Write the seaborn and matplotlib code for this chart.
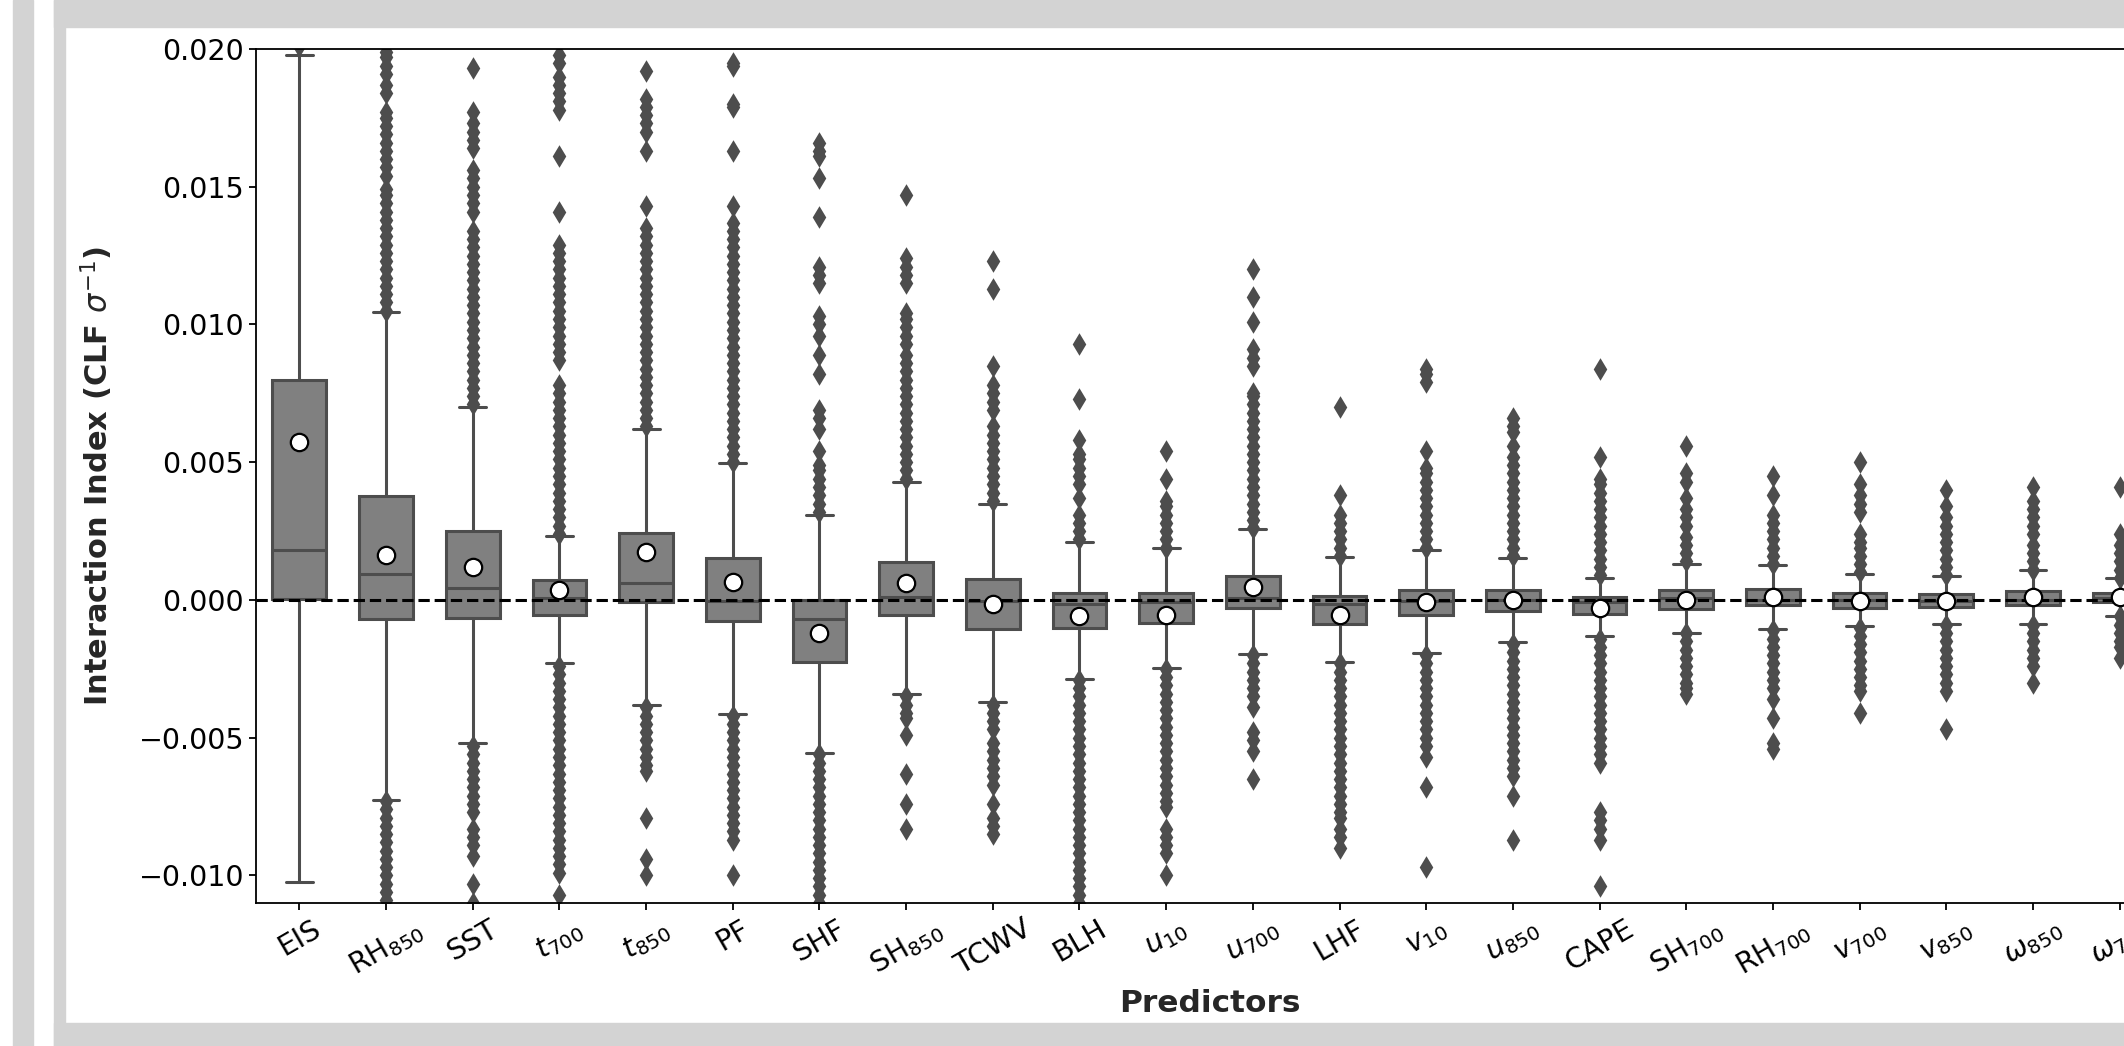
#!/usr/bin/env python3
import numpy as np
import pandas as pd
import seaborn as sns
import matplotlib.pyplot as plt
from matplotlib.patches import Rectangle

# Interaction index per predictor, values in units of 1e-3 (CLF sigma^-1)
predictors = ["EIS", "RH$_{850}$", "SST", "$t_{700}$", "$t_{850}$", "PF", "SHF",
              "SH$_{850}$", "TCWV", "BLH", "$u_{10}$", "$u_{700}$", "LHF",
              "$v_{10}$", "$u_{850}$", "CAPE", "SH$_{700}$", "RH$_{700}$",
              "$v_{700}$", "$v_{850}$", r"$\omega_{850}$", r"$\omega_{700}$"]

whisker_lo = [-10.22, -7.26, -5.20, -2.30, -3.81, -4.13, -5.54, -3.41, -3.71, -2.86, -2.46,
              -1.96, -2.26, -1.92, -1.51, -1.31, -1.19, -1.05, -0.95, -0.89, -0.89, -0.58]
q1 = [0.05, -0.69, -0.65, -0.54, -0.08, -0.75, -2.26, -0.54, -1.05, -1.00, -0.85,
      -0.28, -0.89, -0.54, -0.40, -0.50, -0.34, -0.20, -0.30, -0.24, -0.18, -0.08]
median = [1.81, 0.93, 0.42, 0.06, 0.60, -0.05, -0.69, 0.10, -0.04, -0.14, -0.08,
          0.06, -0.15, -0.04, 0.00, -0.08, 0.06, 0.00, 0.00, -0.04, 0.00, 0.06]
q3 = [7.98, 3.79, 2.50, 0.71, 2.44, 1.53, 0.00, 1.37, 0.77, 0.26, 0.26,
      0.87, 0.16, 0.36, 0.36, 0.10, 0.36, 0.40, 0.26, 0.22, 0.32, 0.26]
whisker_hi = [19.80, 10.44, 7.02, 2.34, 6.21, 4.96, 3.08, 4.29, 3.47, 2.12, 1.88,
              2.58, 1.57, 1.81, 1.53, 0.81, 1.31, 1.27, 0.93, 0.87, 1.07, 0.81]
means = [5.75, 1.65, 1.21, 0.36, 1.73, 0.67, -1.21, 0.63, -0.14, -0.60, -0.54,
         0.46, -0.54, -0.08, 0.00, -0.28, 0.00, 0.12, -0.04, -0.04, 0.12, 0.12]

fliers = [
    # EIS
    [20.1],
    # RH850
    [10.5, 10.8, 11.1, 11.4, 11.7, 12.0, 12.3, 12.6, 12.9, 13.2, 13.5, 13.8, 14.1, 14.4,
     14.7, 14.9, 15.4, 15.7, 16.0, 16.3, 16.6, 16.9, 17.2, 17.5, 17.7, 18.4, 18.7,
     19.1, 19.4, 19.7, 19.9,
     -7.3, -7.6, -7.9, -8.2, -8.5, -8.8, -9.1, -9.4, -9.7, -10.0, -10.3, -10.6, -10.9],
    # SST
    [19.3, 16.4, 16.7, 17.0, 17.3, 17.7, 14.1, 14.4, 14.7, 15.0, 15.3, 15.6,
     7.1, 7.4, 7.7, 8.0, 8.3, 8.6, 8.9, 9.2, 9.5, 9.8, 10.1, 10.4, 10.7, 11.0, 11.3,
     11.6, 11.9, 12.2, 12.5, 12.8, 13.1, 13.4,
     -5.3, -5.6, -5.9, -6.2, -6.5, -6.8, -7.1, -7.4, -7.7, -8.3, -8.6, -8.9, -9.3,
     -10.3, -11.0],
    # t700
    [19.8, 19.5, 19.0, 18.7, 18.4, 18.1, 17.8, 16.1, 14.1,
     8.7, 9.0, 9.3, 9.6, 9.9, 10.2, 10.5, 10.8, 11.1, 11.4, 11.7, 12.0, 12.3, 12.6, 12.9,
     2.4, 2.7, 3.0, 3.3, 3.6, 3.9, 4.2, 4.5, 4.8, 5.1, 5.4, 5.7, 6.0, 6.3, 6.6, 6.9,
     7.2, 7.5, 7.8,
     -2.4, -2.7, -3.0, -3.3, -3.6, -3.9, -4.2, -4.5, -4.8, -5.1, -5.4, -5.7, -6.0,
     -6.3, -6.6, -6.9, -7.2, -7.5, -7.8, -8.1, -8.4, -8.7, -9.0, -9.3, -9.6, -9.9,
     -10.7],
    # t850
    [19.2, 17.0, 17.3, 17.6, 17.9, 18.2, 16.3, 14.3,
     6.3, 6.6, 6.9, 7.2, 7.5, 7.8, 8.1, 8.4, 8.7, 9.0, 9.3, 9.6, 9.9, 10.2, 10.5, 10.8,
     11.1, 11.4, 11.7, 12.0, 12.3, 12.6, 12.9, 13.2, 13.5,
     -3.9, -4.2, -4.5, -4.8, -5.1, -5.4, -5.7, -6.0, -6.2, -7.9, -9.4, -10.0],
    # PF
    [19.5, 19.4, 18.0, 17.9, 16.3, 14.3,
     5.0, 5.3, 5.6, 5.9, 6.2, 6.5, 6.8, 7.1, 7.4, 7.7, 8.0, 8.3, 8.6, 8.9, 9.2, 9.5,
     9.8, 10.1, 10.4, 10.7, 11.0, 11.3, 11.6, 11.9, 12.2, 12.5, 12.8, 13.1, 13.4, 13.7,
     -4.2, -4.5, -4.8, -5.1, -5.4, -5.7, -6.0, -6.3, -6.6, -6.9, -7.2, -7.5, -7.8,
     -8.1, -8.4, -8.7, -10.0],
    # SHF
    [16.6, 16.3, 16.1, 15.3, 13.9, 12.1, 11.8, 11.5, 10.3, 10.0, 9.6, 8.9, 8.2,
     6.9, 6.6, 6.2, 5.4, 3.2, 3.5, 3.8, 4.1, 4.4, 4.7, 4.9,
     -5.6, -5.9, -6.2, -6.5, -6.8, -7.1, -7.4, -7.7, -8.0, -8.3, -8.6, -8.9, -9.2,
     -9.5, -9.8, -10.1, -10.4, -10.7, -11.0],
    # SH850
    [14.7, 11.5, 11.8, 12.1, 12.4, 9.3, 9.6, 9.9, 10.2, 10.4,
     4.4, 4.7, 5.0, 5.3, 5.6, 5.9, 6.2, 6.5, 6.8, 7.1, 7.4, 7.7, 8.0, 8.3, 8.6, 8.9,
     -3.5, -3.8, -4.1, -4.3, -4.9, -6.3, -7.4, -8.3],
    # TCWV
    [12.3, 11.3, 8.5, 6.9, 7.2, 7.5, 7.8, 3.6, 3.9, 4.2, 4.5, 4.8, 5.1, 5.4, 5.7,
     6.0, 6.3,
     -3.8, -4.1, -4.4, -4.7, -5.2, -5.5, -5.8, -6.1, -6.4, -6.7, -7.4, -7.9, -8.2,
     -8.5],
    # BLH
    [9.3, 7.3, 5.8, 4.2, 4.5, 4.8, 5.1, 5.3, 3.7, 2.2, 2.5, 2.8, 3.1,
     -2.9, -3.2, -3.5, -3.8, -4.1, -4.4, -4.7, -5.0, -5.3, -5.6, -5.9, -6.2, -6.5,
     -6.8, -7.1, -7.4, -7.7, -8.0, -8.3, -8.6, -8.9, -9.2, -9.5, -9.8, -10.1, -10.4,
     -10.7, -11.0],
    # u10
    [5.4, 4.4, 1.9, 2.2, 2.5, 2.8, 3.1, 3.4, 3.6,
     -2.5, -2.8, -3.1, -3.4, -3.7, -4.0, -4.3, -4.6, -4.9, -5.2, -5.5, -5.8, -6.1,
     -6.4, -6.7, -7.0, -7.3, -7.5, -8.3, -8.6, -8.9, -9.2, -10.0],
    # u700
    [12.0, 11.0, 10.1, 8.5, 8.8, 9.1,
     2.6, 2.9, 3.2, 3.5, 3.8, 4.1, 4.4, 4.7, 5.0, 5.3, 5.6, 5.9, 6.2, 6.5, 6.8, 7.1,
     7.4, 7.5,
     -2.0, -2.3, -2.6, -2.9, -3.2, -3.5, -3.9, -4.8, -5.1, -5.5, -6.5],
    # LHF
    [7.0, 3.8, 1.6, 1.9, 2.2, 2.5, 2.8, 3.1,
     -2.3, -2.6, -2.9, -3.2, -3.5, -3.8, -4.1, -4.4, -4.7, -5.0, -5.3, -5.6, -5.9,
     -6.2, -6.5, -6.8, -7.1, -7.4, -7.7, -7.9, -8.3, -8.6, -9.0],
    # v10
    [8.4, 8.2, 7.9, 5.4, 1.9, 2.2, 2.5, 2.8, 3.1, 3.4, 3.7, 4.0, 4.3, 4.6, 4.8,
     -2.0, -2.3, -2.6, -2.9, -3.2, -3.5, -3.8, -4.1, -4.4, -4.7, -5.0, -5.3, -5.7,
     -6.8, -9.7],
    # u850
    [6.6, 6.3, 6.1, 1.6, 1.9, 2.2, 2.5, 2.8, 3.1, 3.4, 3.7, 4.0, 4.3, 4.6, 4.9, 5.2,
     5.6,
     -1.6, -1.9, -2.2, -2.5, -2.8, -3.1, -3.4, -3.7, -4.0, -4.3, -4.6, -4.9, -5.2,
     -5.5, -5.8, -6.1, -6.4, -7.1, -8.7],
    # CAPE
    [8.4, 5.2, 0.9, 1.2, 1.5, 1.8, 2.1, 2.4, 2.7, 3.0, 3.3, 3.6, 3.9, 4.2, 4.4,
     -1.4, -1.7, -2.0, -2.3, -2.6, -2.9, -3.2, -3.5, -3.8, -4.1, -4.4, -4.7, -5.0,
     -5.3, -5.6, -5.9, -7.7, -8.0, -8.3, -8.7, -10.4],
    # SH700
    [5.6, 4.3, 4.6, 3.0, 3.3, 3.7, 1.4, 1.7, 2.0, 2.3, 2.7,
     -1.2, -1.5, -1.8, -2.1, -2.4, -2.7, -3.0, -3.2, -3.4],
    # RH700
    [4.5, 3.8, 1.3, 1.6, 1.9, 2.2, 2.5, 2.8, 3.1,
     -1.1, -1.4, -1.7, -2.0, -2.3, -2.6, -2.9, -3.2, -3.6, -4.3, -5.2, -5.4],
    # v700
    [5.0, 3.2, 3.5, 3.8, 4.2, 1.0, 1.3, 1.6, 1.9, 2.1, 2.4,
     -1.0, -1.3, -1.6, -1.9, -2.2, -2.5, -2.8, -3.1, -3.3, -4.1],
    # v850
    [4.0, 0.9, 1.2, 1.5, 1.8, 2.1, 2.4, 2.7, 3.0, 3.4,
     -0.9, -1.2, -1.5, -1.8, -2.1, -2.4, -2.7, -3.0, -3.3, -4.7],
    # omega850
    [4.1, 3.0, 3.3, 3.6, 1.1, 1.4, 1.7, 2.0, 2.4, 2.7,
     -0.9, -1.2, -1.5, -1.8, -2.1, -2.4, -3.0],
    # omega700
    [4.1, 0.8, 1.1, 1.4, 1.7, 2.0, 2.4,
     -0.6, -0.9, -1.2, -1.5, -1.7, -2.1],
]

SCALE = 1e-3
GREY_FRAME = "#d3d3d3"
LINE = "#4d4d4d"


def main():
    # Boxes: five summary values per predictor, whiskers at min/max of these
    box_rows = []
    for i, name in enumerate(predictors):
        for v in (whisker_lo[i], q1[i], median[i], q3[i], whisker_hi[i]):
            box_rows.append((name, v * SCALE))
    box_df = pd.DataFrame(box_rows, columns=["predictor", "value"])

    flier_rows = [(name, v * SCALE) for name, vals in zip(predictors, fliers) for v in vals]
    flier_df = pd.DataFrame(flier_rows, columns=["predictor", "value"])

    mean_df = pd.DataFrame({"predictor": predictors, "value": np.array(means) * SCALE})

    sns.set_theme(style="ticks", rc={"axes.edgecolor": "black", "axes.linewidth": 1.3,
                                     "xtick.color": "black", "ytick.color": "black"})
    plt.rcParams["font.family"] = ["DejaVu Sans"]

    fig = plt.figure(figsize=(21.24, 10.46), dpi=100)
    W, H = 2124, 1046

    # grey slide frame around the chart
    for x0, y0, w, h in [(13, 0, 20, 1046), (54, 0, 11, 1046),
                         (54, 0, 2070, 27), (54, 1023, 2070, 23)]:
        fig.patches.append(Rectangle((x0 / W, 1 - (y0 + h) / H), w / W, h / H,
                                     transform=fig.transFigure, color=GREY_FRAME,
                                     zorder=0))

    ax = fig.add_axes([256 / W, 1 - 903 / H, (2163 - 256) / W, (903 - 49) / H])

    sns.boxplot(data=box_df, x="predictor", y="value", order=predictors,
                color="gray", saturation=1, linecolor=LINE, linewidth=2.2,
                width=0.62, whis=(0, 100), showfliers=False, ax=ax)

    sns.stripplot(data=flier_df, x="predictor", y="value", order=predictors,
                  jitter=False, marker="d", color=LINE, size=11.5, linewidth=0,
                  zorder=2, ax=ax)

    ax.axhline(0, color="black", linestyle="--", linewidth=2.2, zorder=3)

    sns.stripplot(data=mean_df, x="predictor", y="value", order=predictors,
                  jitter=False, marker="o", color="white", edgecolor="black",
                  linewidth=1.6, size=12.5, zorder=5, ax=ax)

    ax.set_xlim(-0.5, len(predictors) - 0.5)
    ax.set_ylim(-0.0110, 0.020)
    ax.set_yticks([-0.010, -0.005, 0.0, 0.005, 0.010, 0.015, 0.020])
    ax.tick_params(axis="both", labelsize=20.5, length=5, width=1.3)
    ax.tick_params(axis="x", labelrotation=30)
    ax.set_xlabel("Predictors", fontsize=22.5, fontweight="bold", labelpad=6)
    ax.set_ylabel(r"Interaction Index (CLF $\sigma^{-1}$)", fontsize=22,
                  fontweight="bold", labelpad=17)

    fig.savefig("out.png", dpi=100)


if __name__ == "__main__":
    main()
